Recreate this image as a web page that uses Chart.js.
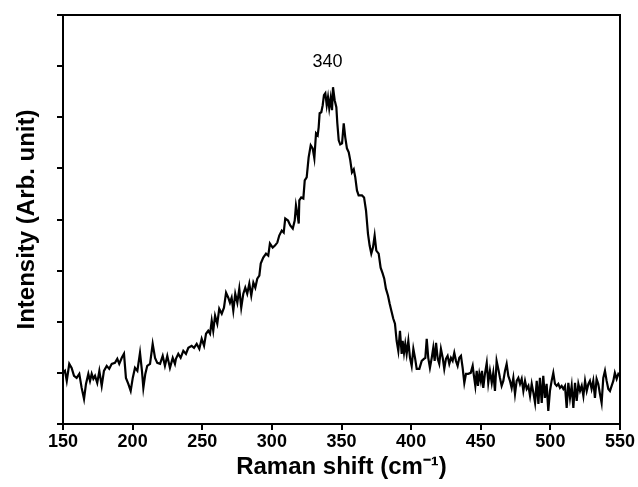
<!DOCTYPE html>
<html>
<head>
<meta charset="utf-8">
<script src="https://cdn.jsdelivr.net/npm/chart.js@4.4.1/dist/chart.umd.min.js"></script>
<style>
  html, body { margin: 0; padding: 0; background: #fff; }
  #wrap { width: 638px; height: 487px; }
</style>
</head>
<body>
<div id="wrap"><canvas id="c" width="638" height="487"></canvas></div>
<script>
// Raman shift (cm-1)
const ramanShift = [
150,151.4,152.7,154.5,156.2,157.9,159.8,161.7,163.4,165.1,166.5,168.2,169.4,170.6,171.8,173.0,174.6,176.1,177.8,179.4,
181.4,183.2,185.0,187.3,189.0,190.4,192.2,193.8,195.2,196.9,198.6,200.1,201.7,203.4,205.3,206.7,207.7,209.1,210.5,212.5,
214.4,216.1,217.7,219.7,221.6,223.2,224.9,226.8,228.8,230.4,
231.1,232.8,234.5,236.4,238.3,240.0,242.4,244.1,246.0,247.9,249.6,251.3,252.7,254.3,255.6,256.8,257.9,259.2,260.8,262.2,
264.0,265.6,267.1,268.7,269.9,271.1,272.3,273.7,275.2,276.6,278.0,279.5,280.9,282.3,283.8,285.2,286.7,288.1,289.5,291.0,
292.0,293.8,295.8,297.4,298.6,300.6,302.2,303.9,305.3,307.1,
308.5,309.6,311.6,313.2,315.0,316.4,317.3,318.3,319.3,319.7,321.1,322.6,323.6,325.0,326.4,327.9,329.3,330.5,331.7,332.9,
333.6,334.3,335.5,336.5,337.4,338.4,339.4,340.3,341.2,342.2,343.2,343.9,345.1,346.3,347.0,348.0,349.1,350.4,351.6,352.7,
353.9,355.2,356.3,357.5,358.8,359.9,361.1,362.3,364.7,366.2,367.6,369.0,370.2,371.4,372.6,373.8,375.0,376.7,378.1,379.6,
380.7,381.9,383.4,384.6,385.8,
387.2,388.4,389.6,390.8,392.0,393.2,393.9,394.9,395.8,396.8,398.0,399.2,400.4,401.6,402.8,404.0,405.9,407.6,409.2,410.2,
411.2,412.3,413.5,414.8,415.9,416.9,417.9,419.1,420.2,421.4,422.7,423.8,425.0,426.2,427.4,428.6,429.8,431.0,432.2,433.4,
434.6,435.8,437.0,438.2,439.4,441.0,442.8,444.2,445.1,446.1,447.1,448.0,449.0,450.0,450.9,451.8,453.0,454.3,455.4,456.6,
457.9,459.0,460.2,461.4,462.6,463.8,465.0,466.2,
467.4,468.6,469.8,471.0,472.2,473.4,474.6,475.8,477.0,478.2,479.4,480.6,481.8,483.0,484.2,485.4,486.6,487.8,489.0,490.2,
491.4,492.5,493.8,494.9,496.1,497.3,498.5,499.7,500.9,502.1,503.3,504.5,505.7,506.9,508.1,509.3,510.5,511.7,512.9,514.1,
515.3,516.5,517.7,518.9,520.1,521.3,522.5,523.7,524.9,526.1,527.3,528.4,529.6,530.8,532.0,533.2,534.4,535.6,536.8,538.0,
539.2,540.4,541.6,542.8,544.0,545.2,546.3,547.6,548.8,550
];
// Intensity (arbitrary units)
const intensity = [
51,53,43,60,56,48,46,50,36,25,40,50,43,50,45,48,41,53,38,53,
58,55,60,61,65,60,66,70,46,40,33,46,56,53,71,53,36,50,58,60,
80,66,61,60,68,58,68,56,66,60,
65,70,66,73,70,76,78,76,80,75,85,78,90,93,90,103,93,108,100,115,
110,116,131,126,121,126,113,130,121,135,116,130,136,130,140,128,141,136,145,148,
160,166,170,168,180,176,178,181,188,193,
191,205,203,198,195,203,218,210,200,223,226,225,243,246,266,278,275,265,290,288,
296,310,311,318,328,330,318,326,315,325,313,336,323,316,300,283,279,280,300,286,
275,271,263,251,254,246,233,228,228,226,213,190,178,170,176,188,173,170,156,150,
145,135,128,120,113,
105,100,83,73,93,70,83,71,80,70,83,66,58,75,66,55,55,63,65,66,
85,66,56,66,76,63,81,65,60,75,66,55,65,68,60,66,63,71,63,58,
66,68,56,41,50,50,51,58,48,38,53,38,50,43,53,36,50,61,41,53,
41,51,33,63,55,46,38,43,
53,60,48,43,36,46,30,43,46,40,45,33,43,35,38,28,40,31,21,43,
20,46,21,48,26,40,13,33,43,51,40,38,40,36,38,35,38,16,41,26,
38,16,41,23,40,33,38,28,43,33,40,43,35,43,26,45,40,30,21,46,
53,43,35,33,38,43,51,45,50,48
];
const xTicks = [150, 200, 250, 300, 350, 400, 450, 500, 550];
const peakLabel = "340";
const peakLabelX = 340;
const peakLabelY = 361;

const points = ramanShift.map((x, i) => ({ x: x, y: intensity[i] }));

const fontFamily = "'Liberation Sans', Arial, sans-serif";

const framePlugin = {
  id: 'frame',
  afterDraw(chart) {
    const { ctx, chartArea: a, scales } = chart;
    ctx.save();
    ctx.strokeStyle = '#000';
    ctx.lineWidth = 2;
    ctx.beginPath();
    ctx.moveTo(a.left, a.top);
    ctx.lineTo(a.right, a.top);
    ctx.lineTo(a.right, a.bottom);
    ctx.stroke();
    ctx.fillStyle = '#000';
    ctx.font = "18px " + fontFamily;
    ctx.textAlign = 'center';
    ctx.textBaseline = 'middle';
    ctx.fillText(peakLabel, scales.x.getPixelForValue(peakLabelX), scales.y.getPixelForValue(peakLabelY));
    ctx.restore();
  }
};

new Chart(document.getElementById('c'), {
  type: 'line',
  data: {
    datasets: [{
      data: points,
      borderColor: '#000',
      borderWidth: 2.2,
      pointRadius: 0,
      tension: 0,
      fill: false
    }]
  },
  options: {
    responsive: false,
    animation: false,
    devicePixelRatio: 1,
    layout: { padding: { top: 15, right: 18, left: 0, bottom: 0 } },
    plugins: { legend: { display: false }, tooltip: { enabled: false } },
    scales: {
      x: {
        type: 'linear',
        min: 150, max: 550,
        afterBuildTicks(scale) { scale.ticks = xTicks.map(v => ({ value: v })); },
        afterFit(scale) { scale.height = 63; },
        grid: { drawOnChartArea: false, drawTicks: true, tickLength: 6, color: '#000', lineWidth: 2 },
        border: { display: true, color: '#000', width: 2 },
        ticks: { color: '#000', padding: 1, maxRotation: 0, font: { family: fontFamily, size: 18, weight: 'bold' } },
        title: { display: true, text: 'Raman shift (cm\u207B\u00B9)', color: '#000', padding: { top: 0, bottom: 5 }, font: { family: fontFamily, size: 24, weight: 'bold' } }
      },
      y: {
        type: 'linear',
        min: 0, max: 408,
        afterFit(scale) { scale.width = 63; },
        grid: { drawOnChartArea: false, drawTicks: true, tickLength: 6, color: '#000', lineWidth: 2 },
        border: { display: true, color: '#000', width: 2 },
        ticks: { stepSize: 51, display: true, callback: () => '', font: { size: 1 } },
        title: { display: true, text: 'Intensity (Arb. unit)', color: '#000', padding: { top: 13, bottom: 0 }, font: { family: fontFamily, size: 24, weight: 'bold' } }
      }
    }
  },
  plugins: [framePlugin]
});
</script>
</body>
</html>
